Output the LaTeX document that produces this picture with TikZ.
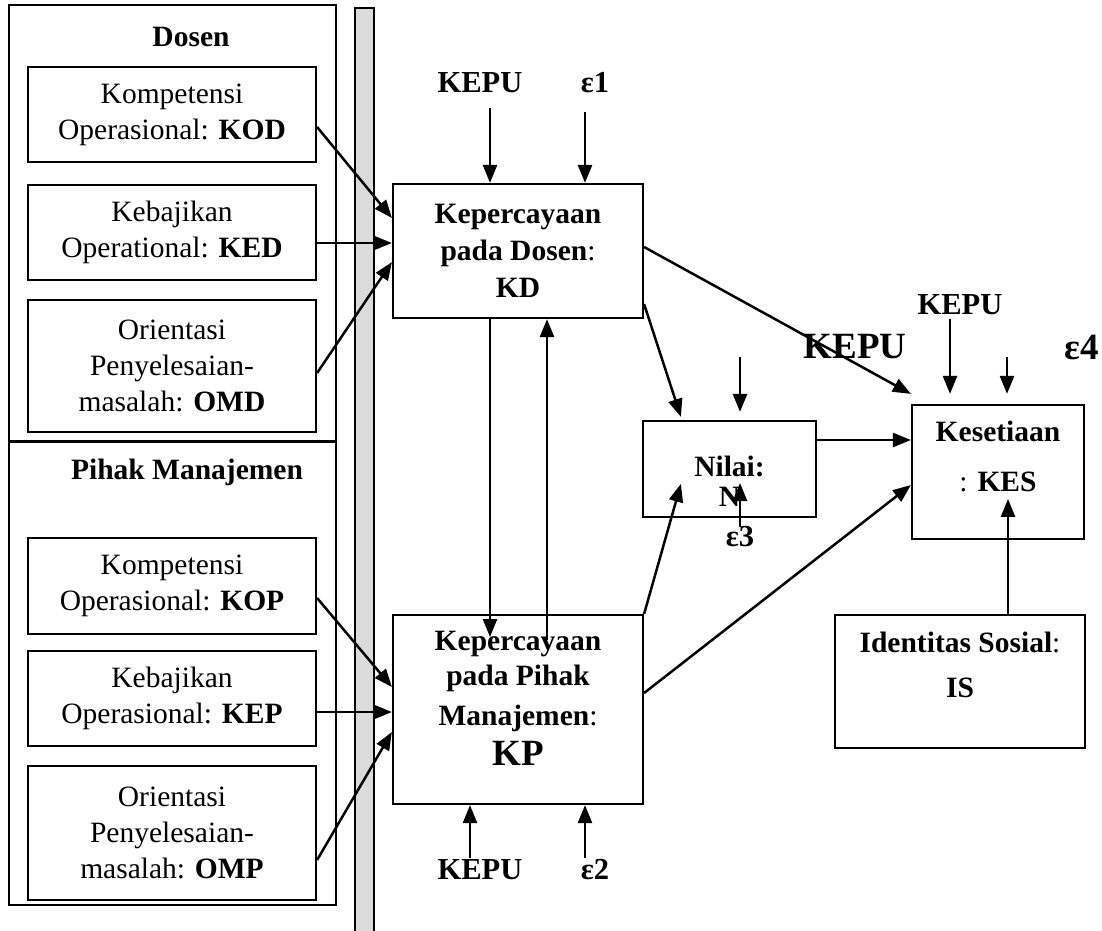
\documentclass[tikz,border=0pt]{standalone}
\usepackage{fontspec}
\setmainfont{Liberation Serif}
\usepackage{tikz}
\usetikzlibrary{arrows.meta}

\begin{document}
\begin{tikzpicture}
            [
                x=1pt, y=-1pt,
                line width=2.5pt,
                font=\fontsize{29.5}{36}\selectfont,
                >={Triangle[length=18pt,width=14pt]}
            ]
            \tikzset{
                groupnode/.style = {rectangle, draw=black, line width=2.2pt, inner sep=0pt},
                varnode/.style = {rectangle, draw=black, line width=2.2pt, align=center, inner sep=0pt},
                termnode/.style = {inner sep=0pt, font=\fontsize{30.5}{36}\selectfont\bfseries},
                bigterm/.style = {inner sep=0pt, font=\fontsize{37}{40}\selectfont\bfseries}
            }
            \useasboundingbox (0,0) rectangle (1102,930);
            % groups on the left
            \node [groupnode, minimum width=327pt, minimum height=436pt] (GD) at (172.5,223) {};
            \node [groupnode, minimum width=327pt, minimum height=463pt] (GP) at (172.5,673.5) {};
            \node [font=\fontsize{29.5}{36}\selectfont\bfseries] (tD) at (191,37) {Dosen};
            \node [font=\fontsize{29.5}{36}\selectfont\bfseries] (tP) at (187,472) {Pihak Manajemen};
            \node [rectangle, draw=black, line width=2.2pt, fill=black!14, inner sep=0pt, minimum width=19pt, minimum height=940pt] (bar) at (364.5,478) {};
            \node [varnode, minimum width=288pt, minimum height=95pt] (KOD) at (172,114.5) {Kompetensi\\Operasional: \textbf{KOD}};
            \node [varnode, minimum width=288pt, minimum height=95pt] (KED) at (172,232.5) {Kebajikan\\Operational: \textbf{KED}};
            \node [varnode, minimum width=288pt, minimum height=132pt] (OMD) at (172,366) {Orientasi\\Penyelesaian-\\masalah: \textbf{OMD}};
            \node [varnode, minimum width=288pt, minimum height=96pt] (KOP) at (172,586) {Kompetensi\\Operasional: \textbf{KOP}};
            \node [varnode, minimum width=288pt, minimum height=95pt] (KEP) at (172,698.5) {Kebajikan\\Operasional: \textbf{KEP}};
            \node [varnode, minimum width=288pt, minimum height=134pt] (OMP) at (172,833) {Orientasi\\Penyelesaian-\\masalah: \textbf{OMP}};
            % constructs
            \node [varnode, font=\fontsize{29.5}{37}\selectfont\bfseries, minimum width=250pt, minimum height=134pt] (KD) at (518,251) {Kepercayaan\\pada Dosen\textmd{:}\\KD};
            \node [varnode, font=\fontsize{29.5}{35}\selectfont\bfseries, minimum width=250pt, minimum height=189pt] (KP) at (518,709.5) {Kepercayaan\\pada Pihak\\[5pt]Manajemen\textmd{:}\\[5pt]{\fontsize{37}{40}\selectfont KP}\rule[-22pt]{0pt}{0pt}};
            \node [varnode, font=\fontsize{29.5}{36}\selectfont\bfseries, minimum width=173pt, minimum height=96pt] (N) at (729.5,469) {\rule{0pt}{44pt}Nilai:\\[-6pt]N};
            \node [varnode, font=\fontsize{29.5}{36}\selectfont\bfseries, minimum width=172pt, minimum height=134pt] (KES) at (998,472) {Kesetiaan\\[14pt]\textmd{:} KES\rule[-32pt]{0pt}{0pt}};
            \node [varnode, font=\fontsize{29.5}{36}\selectfont\bfseries, minimum width=250pt, minimum height=133pt] (IS) at (960,681.5) {Identitas Sosial\textmd{:}\\[9pt]IS\rule[-34pt]{0pt}{0pt}};
            % external terms
            \node [termnode] (kepuA) at (480,83) {KEPU};
            \node [termnode] (epsA) at (595,83) {ε1};
            \node [termnode] (kepuB) at (480,870) {KEPU};
            \node [termnode] (epsB) at (595,870) {ε2};
            \node [termnode] (epsC) at (740,537) {ε3};
            \node [termnode] (kepuC) at (960,305) {KEPU};
            \node [bigterm] (kepuD) at (855,347) {KEPU};
            \node [bigterm] (epsD) at (1082,347) {ε4};
            \coordinate (kA) at (490,108);
            \coordinate (eA) at (585,112);
            \coordinate (kB) at (470,858);
            \coordinate (eB) at (585,858);
            \coordinate (dn) at (490,637);
            \coordinate (up) at (547,640);
            \coordinate (nA) at (740,357);
            \coordinate (nB) at (740,527);
            \coordinate (kC) at (950,319);
            \coordinate (eC) at (1007,357);
            % paths
            \draw [->] ([yshift=-12.5pt]KOD.east) -- ([yshift=33pt]KD.west);
            \draw [->] ([yshift=-10.5pt]KED.east) -- ([yshift=-10.5pt]KED.east -| KD.west);
            \draw [->] ([yshift=-7pt]OMD.east) -- ([yshift=-11pt]KD.west);
            \draw [->] ([yshift=-12pt]KOP.east) -- ([yshift=22.5pt]KP.west);
            \draw [->] ([yshift=-13.5pt]KEP.east) -- ([yshift=-13.5pt]KEP.east -| KP.west);
            \draw [->] ([yshift=-27pt]OMP.east) -- ([yshift=-22.5pt]KP.west);
            \draw [->] (kA) -- (kA |- KD.north);
            \draw [->] (eA) -- (eA |- KD.north);
            \draw [->] (kB) -- (kB |- KP.south);
            \draw [->] (eB) -- (eB |- KP.south);
            \draw [->] (dn |- KD.south) -- (dn);
            \draw [->] (up) -- (up |- KD.south);
            \draw [->] ([yshift=15pt]KD.south east) -- ([xshift=39pt,yshift=3pt]N.north west);
            \draw [->] (KP.north east) -- ([xshift=39pt,yshift=-64pt]N.north west);
            \draw [->, shorten >=8pt] (nA) -- (nA |- N.north);
            \draw [->] (nB) -- ++(0,-44);
            \draw [->] ([yshift=4pt]KD.east) -- ([yshift=10pt]KES.north west);
            \draw [->] ([yshift=29pt]N.east) -- ([yshift=29pt]N.east -| KES.west);
            \draw [->] ([yshift=16.5pt]KP.east) -- ([yshift=-13pt]KES.west);
            \draw [->] ([xshift=48pt]IS.north) -- ++(0,-115);
            \draw [->, shorten >=10pt] (kC) -- (kC |- KES.north);
            \draw [->, shorten >=10pt] (eC) -- (eC |- KES.north);
\end{tikzpicture}
\end{document}
